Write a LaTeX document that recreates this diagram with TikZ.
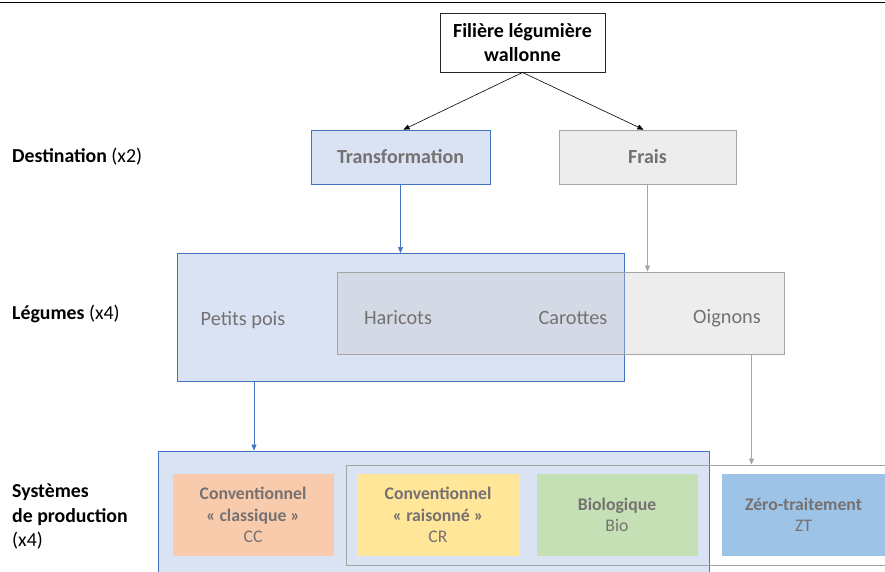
\documentclass[tikz,border=0pt]{standalone}
\usepackage{fontspec}
\setmainfont{Carlito}
\usetikzlibrary{arrows.meta}
\definecolor{txtgray}{HTML}{767171}
\definecolor{bblue}{HTML}{4472C4}
\definecolor{fblue}{HTML}{DAE3F3}
\definecolor{bgray}{HTML}{A5A5A5}
\definecolor{fgray}{HTML}{EDEDED}
\definecolor{ogray}{HTML}{CBCBCB}
\definecolor{fcc}{HTML}{F8CBAD}
\definecolor{fcr}{HTML}{FFE699}
\definecolor{fbio}{HTML}{C5E0B4}
\definecolor{fzt}{HTML}{9DC3E6}
\tikzset{
  box/.style={draw, rectangle, inner sep=0pt, align=center, line width=0.8pt},
  destbox/.style={box, font=\fontsize{20}{24}\selectfont\bfseries, text=txtgray, minimum height=54pt},
  vegtxt/.style={font=\fontsize{20.3}{24}\selectfont, text=txtgray},
  sysbox/.style={rectangle, inner sep=0pt, align=center, minimum height=82pt, text=txtgray, font=\fontsize{17.7}{21.5}\selectfont},
  lbl/.style={anchor=west, align=left, font=\fontsize{19.8}{24.5}\selectfont, inner sep=0pt},
  arr/.style={-{Triangle[length=6pt,width=5pt]}, line width=0.6pt},
}
\begin{document}
\begin{tikzpicture}[x=1pt,y=-1pt]
\useasboundingbox (0,0) rectangle (885,571);
\clip (0,0) rectangle (885,571);
% top rule
\draw[line width=1.5pt] (0,2.3) -- (885,2.3);
% root
\node[box, draw=black!85, line width=0.9pt, minimum width=165pt, minimum height=59pt,
  font=\fontsize{20}{24}\selectfont\bfseries] (root) at (522.5,42.5) {Filière légumière\\wallonne};
% destinations
\node[destbox, draw=bblue, fill=fblue, minimum width=179pt] (trans) at (400.5,157) {Transformation};
\node[destbox, draw=bgray, fill=fgray, minimum width=177pt] (frais) at (647.5,157) {Frais};
\draw[arr] (root.south) -- ([xshift=3pt]trans.north);
\draw[arr] (root.south) -- ([xshift=-4pt]frais.north);
% vegetables
\node[box, draw=bblue, fill=fblue, minimum width=447pt, minimum height=128pt] (legb) at (400.5,317.5) {};
\node[box, draw=bgray, fill=ogray, fill opacity=0.35, minimum width=447pt, minimum height=82pt] (legg) at (560.5,313) {};
\draw[arr, bblue] (trans.south) -- (legb.north);
\draw[arr, bgray] (frais.south) -- (frais.south |- legg.north);
\node[vegtxt] (pp) at (243,320) {Petits pois};
\node[vegtxt] (har) at (398,318) {Haricots};
\node[vegtxt] (car) at (573,318) {Carottes};
\node[vegtxt] (oig) at (727,318) {Oignons};
% production systems
\node[box, draw=bblue, fill=fblue, minimum width=551pt, minimum height=140pt] (sysb) at (433.5,521) {};
\node[box, draw=bgray, minimum width=600pt, minimum height=100pt] (sysg) at (646,515) {};
\coordinate (pa) at (254,381);
\coordinate (ga) at (751.5,354);
\draw[arr, bblue] (pa) -- (pa |- sysb.north);
\draw[arr, bgray] (ga) -- (ga |- sysg.north);
\node[sysbox, fill=fcc, minimum width=161pt] (cc) at (253,515) {\textbf{Conventionnel}\\\textbf{« classique »}\\CC};
\node[sysbox, fill=fcr, minimum width=162pt] (cr) at (438,515) {\textbf{Conventionnel}\\\textbf{« raisonné »}\\CR};
\node[sysbox, fill=fbio, minimum width=161pt] (bio) at (617,515) {\textbf{Biologique}\\Bio};
\node[sysbox, fill=fzt, minimum width=163pt] (zt) at (803.5,515) {\textbf{Zéro-traitement}\\ZT};
% left labels
\node[lbl] (l1) at (12,157) {\textbf{Destination} (x2)};
\node[lbl] (l2) at (12,314) {\textbf{Légumes} (x4)};
\node[lbl] (l3) at (12,517) {\textbf{Systèmes}\\\textbf{de production}\\(x4)};
\end{tikzpicture}
\end{document}
